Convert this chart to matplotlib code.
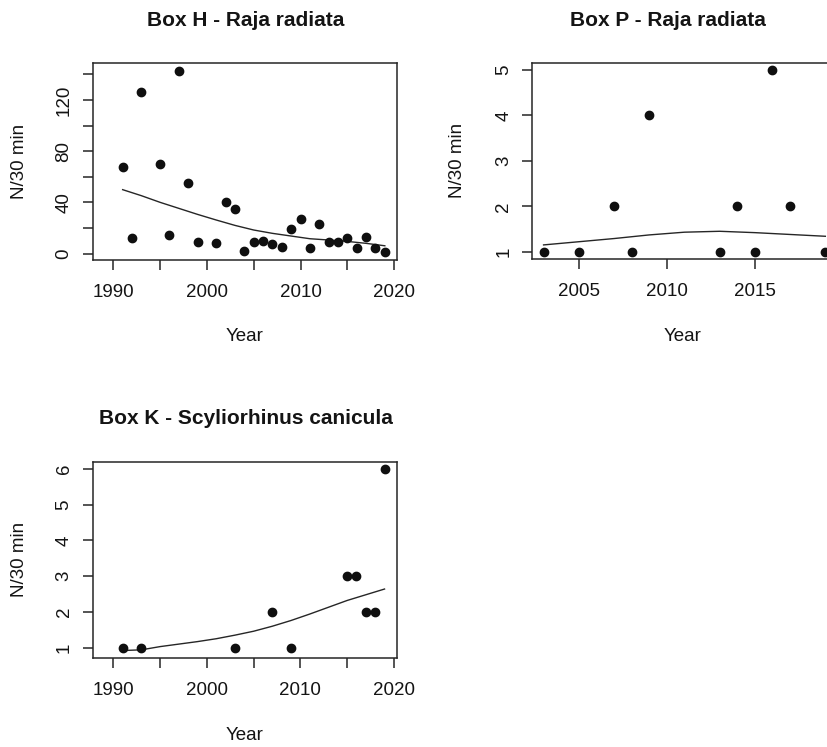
import matplotlib
matplotlib.use("Agg")
import matplotlib.pyplot as plt

plt.rcParams['font.family'] = ['Liberation Sans', 'DejaVu Sans']

# ---------------- data ----------------
h_years = [1991, 1992, 1993, 1995, 1996, 1997, 1998, 1999, 2001, 2002, 2003, 2004,
           2005, 2006, 2007, 2008, 2009, 2010, 2011, 2012, 2013, 2014, 2015, 2016,
           2017, 2018, 2019]
h_values = [68, 12, 126, 70, 15, 143, 55, 9, 8, 40, 35, 2,
            9, 10, 7.5, 5, 19, 27, 4.5, 23, 9, 9, 12.5, 4.5,
            13, 4.5, 1.5]
h_fit_years = [1991, 1993, 1995, 1997, 1999, 2001, 2003, 2005, 2007, 2009, 2011, 2013, 2015, 2017, 2019]
h_fit_vals = [50.0, 45.3, 40.1, 35.4, 30.7, 26.3, 22.1, 18.5, 15.9, 13.8, 11.7, 10.7, 9.6, 8.1, 6.2]

p_years = [2003, 2005, 2007, 2008, 2009, 2013, 2014, 2015, 2016, 2017, 2019]
p_values = [1, 1, 2, 1, 4, 1, 2, 1, 5, 2, 1]
p_fit_years = [2003, 2005, 2007, 2009, 2011, 2013, 2015, 2017, 2019]
p_fit_vals = [1.15, 1.22, 1.29, 1.37, 1.43, 1.45, 1.42, 1.38, 1.34]

k_years = [1991, 1993, 2003, 2007, 2009, 2015, 2016, 2017, 2018, 2019]
k_values = [1, 1, 1, 2, 1, 3, 3, 2, 2, 6]
k_fit_years = [1991, 1993, 1995, 1997, 1999, 2001, 2003, 2005, 2007, 2009, 2011, 2013, 2015, 2017, 2019]
k_fit_vals = [0.92, 0.94, 1.03, 1.10, 1.17, 1.25, 1.35, 1.46, 1.60, 1.76, 1.94, 2.13, 2.32, 2.48, 2.64]

titles = ["Box H - Raja radiata", "Box P - Raja radiata", "Box K - Scyliorhinus canicula"]
ylabel = "N/30 min"
xlabel = "Year"

h_xticks = [1990, 1995, 2000, 2005, 2010, 2015, 2020]
h_xticklabels = ["1990", "", "2000", "", "2010", "", "2020"]
h_yticks = [0, 20, 40, 60, 80, 100, 120, 140]
h_yticklabels = ["0", "", "40", "", "80", "", "120", ""]
p_xticks = [2005, 2010, 2015]
p_xticklabels = ["2005", "2010", "2015"]
p_yticks = [1, 2, 3, 4, 5]
k_yticks = [1, 2, 3, 4, 5, 6]

# ---------------- figure ----------------
W, H = 827, 747
fig = plt.figure(figsize=(W / 100, H / 100), dpi=100)
fig.patch.set_facecolor("white")

ink = "#141414"


def px_rect(left, top, right, bottom):
    return [left / W, 1 - bottom / H, (right - left) / W, (bottom - top) / H]


def style(ax, xticks, xticklabels, yticks, yticklabels):
    ax.set_xticks(xticks)
    ax.set_xticklabels(xticklabels)
    ax.set_yticks(yticks)
    ax.set_yticklabels(yticklabels)
    for s in ax.spines.values():
        s.set_color("#262626")
        s.set_linewidth(1.1)
    ax.tick_params(axis="both", direction="out", length=7.5, width=1.1,
                   color="#262626", labelsize=13.5, labelcolor=ink)
    ax.tick_params(axis="x", pad=10)
    ax.tick_params(axis="y", pad=7, labelrotation=90)
    for lab in ax.get_yticklabels() + ax.get_xticklabels():
        lab.set_fontweight("medium")
    for lab in ax.get_yticklabels():
        lab.set_va("center")


def panel(rect, xs, ys, fx, fy, xlim, ylim):
    ax = fig.add_axes(rect)
    ax.plot(fx, fy, color="#262626", lw=1.0, zorder=2)
    ax.scatter(xs, ys, s=36, color="#0f0f0f", zorder=3, clip_on=False)
    ax.set_xlim(*xlim)
    ax.set_ylim(*ylim)
    return ax


axH = panel(px_rect(92.7, 62.7, 397, 260), h_years, h_values, h_fit_years, h_fit_vals,
            (1987.8, 2020.3), (-4.9, 149.1))
style(axH, h_xticks, h_xticklabels, h_yticks, h_yticklabels)

axP = panel(px_rect(532.3, 62.7, 836.6, 259), p_years, p_values, p_fit_years, p_fit_vals,
            (2002.36, 2019.64), (0.84, 5.16))
style(axP, p_xticks, p_xticklabels, p_yticks, [str(v) for v in p_yticks])

axK = panel(px_rect(92.7, 461.7, 396.7, 657.7), k_years, k_values, k_fit_years, k_fit_vals,
            (1987.8, 2020.3), (0.72, 6.2))
style(axK, h_xticks, h_xticklabels, k_yticks, [str(v) for v in k_yticks])


def ftext(x, y, s, **kw):
    fig.text(x / W, 1 - y / H, s, ha="center", va="center", color=ink, **kw)


# titles
ftext(246, 21, titles[0], fontsize=15, fontweight="bold")
ftext(668, 21, titles[1], fontsize=15, fontweight="bold")
ftext(246, 419, titles[2], fontsize=15, fontweight="bold")

# axis labels
ftext(245, 336, xlabel, fontsize=13.5, fontweight="medium")
ftext(683, 336, xlabel, fontsize=13.5, fontweight="medium")
ftext(245, 735, xlabel, fontsize=13.5, fontweight="medium")
ftext(19, 161, ylabel, fontsize=13.5, rotation=90, fontweight="medium")
ftext(457, 160, ylabel, fontsize=13.5, rotation=90, fontweight="medium")
ftext(19, 559, ylabel, fontsize=13.5, rotation=90, fontweight="medium")

fig.savefig("out.png", dpi=100, facecolor="white")
